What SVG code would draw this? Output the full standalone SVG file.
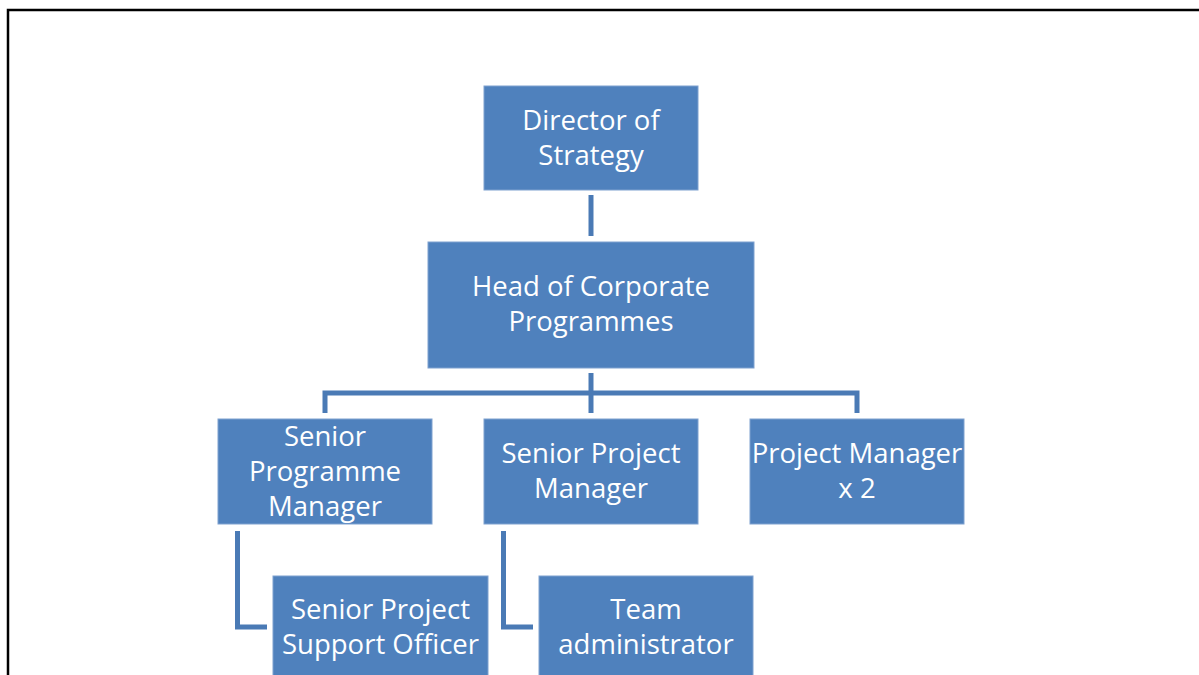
<svg xmlns="http://www.w3.org/2000/svg" width="1199" height="675" viewBox="0 0 1199 675">
<style>
.box{fill:#4F81BD;stroke:#7FA1CF;stroke-width:1}
.t{font-family:"Open Sans",Lato,"Liberation Sans",sans-serif;font-size:27.5px;fill:#FFFFFF;text-anchor:middle}
.c{fill:none;stroke:#4A7AB5;stroke-width:5;stroke-linejoin:miter}
</style>
<rect width="1199" height="675" fill="#FFFFFF"/>
<path d="M8 675 V10 H1199" fill="none" stroke="#000000" stroke-width="2.5"/>
<g id="connectors">
<path class="c" d="M591 195 V236" stroke="#3F6CA0"/>
<path class="c" d="M591 373 V413"/>
<path class="c" d="M325 413 V393 H857 V413"/>
<path class="c" d="M237.5 531 V627 H267"/>
<path class="c" d="M503.5 531 V627 H533"/>
</g>
<g id="director">
<rect class="box" x="484" y="86" width="214" height="104"/>
<text class="t" x="591" y="130">Director of</text>
<text class="t" x="591" y="165">Strategy</text>
</g>
<g id="head">
<rect class="box" x="428" y="242" width="326" height="126"/>
<text class="t" x="591" y="296">Head of Corporate</text>
<text class="t" x="591" y="331">Programmes</text>
</g>
<g id="spm">
<rect class="box" x="218" y="419" width="214" height="105"/>
<text class="t" x="325" y="446">Senior</text>
<text class="t" x="325" y="481">Programme</text>
<text class="t" x="325" y="516">Manager</text>
</g>
<g id="sprojm">
<rect class="box" x="484" y="419" width="214" height="105"/>
<text class="t" x="591" y="463">Senior Project</text>
<text class="t" x="591" y="498">Manager</text>
</g>
<g id="pm">
<rect class="box" x="750" y="419" width="214" height="105"/>
<text class="t" x="857" y="463">Project Manager</text>
<text class="t" x="857" y="498">x 2</text>
</g>
<g id="spso">
<rect class="box" x="273" y="576" width="215" height="110"/>
<text class="t" x="380.5" y="619">Senior Project</text>
<text class="t" x="380.5" y="654">Support Officer</text>
</g>
<g id="ta">
<rect class="box" x="539" y="576" width="214" height="110"/>
<text class="t" x="646" y="619">Team</text>
<text class="t" x="646" y="654">administrator</text>
</g>
</svg>
